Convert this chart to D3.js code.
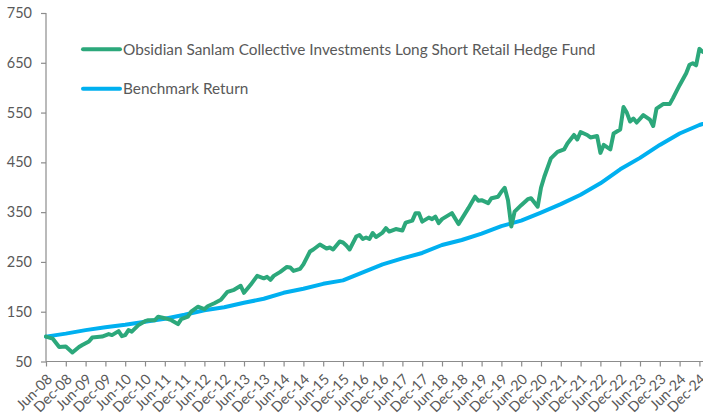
<!DOCTYPE html>
<html>
<head>
<meta charset="utf-8">
<title>Fund vs Benchmark</title>
<script src="https://d3js.org/d3.v7.min.js"></script>
<style>
  body { margin: 0; background: white; }
  #plot { width: 703px; height: 417px; }
  text { font-family: Lato, "Open Sans", sans-serif; fill: #595959; }
</style>
</head>
<body>
<div id="plot"></div>
<script>
// DATA
var seriesNames = ['Obsidian Sanlam Collective Investments Long Short Retail Hedge Fund', 'Benchmark Return']

var fundDates = ['2008-06','2008-08','2008-10','2008-12','2009-02','2009-04','2009-05','2009-07','2009-08','2009-11',
  '2010-01','2010-02','2010-03','2010-04','2010-05','2010-06','2010-07','2010-08','2010-10','2010-12',
  '2011-01','2011-03','2011-04','2011-06','2011-08','2011-10','2011-11','2012-01','2012-02','2012-04',
  '2012-06','2012-07','2012-09','2012-11','2013-01','2013-02','2013-03','2013-05','2013-06','2013-08',
  '2013-10','2013-12','2014-01','2014-02','2014-03','2014-05','2014-07','2014-08','2014-09','2014-11',
  '2014-12','2015-02','2015-03','2015-05','2015-07','2015-08','2015-09','2015-11','2015-12','2016-01',
  '2016-02','2016-04','2016-05','2016-06','2016-07','2016-08','2016-09','2016-10','2016-12','2017-01',
  '2017-02','2017-04','2017-06','2017-07','2017-09','2017-10','2017-11','2017-12','2018-02','2018-03',
  '2018-04','2018-05','2018-06','2018-09','2018-11','2019-02','2019-04','2019-05','2019-06','2019-08',
  '2019-09','2019-11','2019-12','2020-01','2020-02','2020-03','2020-04','2020-06','2020-08','2020-09',
  '2020-11','2020-12','2021-01','2021-03','2021-05','2021-07','2021-08','2021-10','2021-11','2021-12',
  '2022-02','2022-03','2022-05','2022-06','2022-07','2022-09','2022-10','2022-12','2023-01','2023-02',
  '2023-03','2023-04','2023-05','2023-07','2023-09','2023-10','2023-11','2024-01','2024-03','2024-04',
  '2024-05','2024-06','2024-08','2024-09','2024-10','2024-11','2024-12','2025-01']
var fundValues = [100,96,79,80,68,79,83,90,98,100,
  105,103,107,111,101,103,113,110,123,131,
  133,133,140,137,133,125,135,140,150,160,
  155,161,167,174,190,192,194,202,188,204,
  222,217,220,214,222,230,240,239,232,236,
  245,271,275,285,277,279,275,291,289,283,
  275,301,304,296,299,296,308,300,309,318,
  311,316,313,329,333,348,348,331,339,336,
  341,328,336,348,326,358,381,373,374,368,
  378,381,391,399,374,321,351,364,376,378,
  361,399,421,458,471,476,488,505,496,511,
  505,500,503,469,485,476,508,516,561,550,
  532,538,530,545,536,523,558,567,567,579,
  592,605,629,646,649,645,678,672]

var benchDates = ['2008-06','2008-12','2009-06','2009-12','2010-06','2010-12','2011-06','2011-12','2012-06','2012-12',
  '2013-06','2013-12','2014-06','2014-12','2015-06','2015-12','2016-06','2016-12','2017-06','2017-12',
  '2018-06','2018-12','2019-06','2019-12','2020-06','2020-12','2021-06','2021-12','2022-06','2022-12',
  '2023-06','2023-12','2024-06','2024-12','2025-01']
var benchValues = [100,106,113,119,124,130,136,144,153,159,
  168,176,188,196,206,213,229,245,257,268,
  284,294,307,322,333,349,366,385,408,436,
  459,485,508,525,527]

var yTicks = [50,150,250,350,450,550,650,750]
var xTickLabels = ['Jun-08','Dec-08','Jun-09','Dec-09','Jun-10','Dec-10','Jun-11','Dec-11','Jun-12','Dec-12',
  'Jun-13','Dec-13','Jun-14','Dec-14','Jun-15','Dec-15','Jun-16','Dec-16','Jun-17','Dec-17',
  'Jun-18','Dec-18','Jun-19','Dec-19','Jun-20','Dec-20','Jun-21','Dec-21','Jun-22','Dec-22',
  'Jun-23','Dec-23','Jun-24','Dec-24']

var colors = ['#2ca87b', '#00b0f0']

// HELPERS
var monNames = ['Jan','Feb','Mar','Apr','May','Jun','Jul','Aug','Sep','Oct','Nov','Dec']
function monthIndex(s) {            // 'YYYY-MM' -> months since Jun-08
  var p = s.split('-')
  return (+p[0] - 2008) * 12 + (+p[1] - 6)
}
function labelIndex(s) {            // 'Mmm-YY' -> months since Jun-08
  var p = s.split('-')
  return (2000 + +p[1] - 2008) * 12 + (monNames.indexOf(p[0]) + 1 - 6)
}

var W = 703, H = 417
var margin = {top: 13, right: 0, bottom: 55.5, left: 46}
var width = W - margin.left - margin.right
var height = H - margin.top - margin.bottom

var svg = d3.select('#plot').append('svg')
    .attr('width', W)
    .attr('height', H)
  .append('g')
    .attr('transform', 'translate(' + margin.left + ',' + margin.top + ')')

var x = d3.scaleLinear().domain([0, monthIndex('2025-01')]).range([0, width - 0.3])
var y = d3.scaleLinear().domain([50, 750]).range([height, 0])

// AXES
var yAxis = svg.append('g')
    .call(d3.axisLeft(y).tickValues(yTicks).tickSize(5).tickPadding(9))
yAxis.selectAll('text').style('font-size', '14.5px')

var xAxis = svg.append('g')
    .attr('transform', 'translate(0,' + height + ')')
    .call(d3.axisBottom(x).tickValues(xTickLabels.map(labelIndex))
      .tickSize(5).tickFormat(function(d, i) { return xTickLabels[i] }))
xAxis.selectAll('text')
    .style('font-size', '14.3px')
    .attr('text-anchor', 'end')
    .attr('transform', 'translate(3,15) rotate(-45)')
    .attr('dy', '0.35em')
    .attr('y', 0)
    .attr('x', 0)

svg.selectAll('.domain, .tick line').attr('stroke', '#8c8c8c').attr('stroke-width', 1.2)
yAxis.select('.domain').attr('d', 'M0,0V' + height)
xAxis.select('.domain').attr('d', 'M0,0H' + width)

// LINES
var line = d3.line()
    .x(function(d) { return x(d[0]) })
    .y(function(d) { return y(d[1]) })

var fund = fundDates.map(function(d, i) { return [monthIndex(d), fundValues[i]] })
var bench = benchDates.map(function(d, i) { return [monthIndex(d), benchValues[i]] })

svg.append('path').datum(bench)
    .attr('fill', 'none').attr('stroke', colors[1]).attr('stroke-width', 4)
    .attr('stroke-linejoin', 'round').attr('stroke-linecap', 'round')
    .attr('d', line)
svg.append('path').datum(fund)
    .attr('fill', 'none').attr('stroke', colors[0]).attr('stroke-width', 4)
    .attr('stroke-linejoin', 'round').attr('stroke-linecap', 'round')
    .attr('d', line)

// LEGEND
var legend = d3.select('#plot svg').selectAll('.legend')
    .data(seriesNames)
    .enter().append('g')
      .attr('class', 'legend')
      .attr('transform', function(d, i) { return 'translate(82,' + (49.3 + i * 39.4) + ')' })
legend.append('line')
    .attr('x1', 1).attr('x2', 38)
    .attr('stroke', function(d, i) { return colors[i] })
    .attr('stroke-width', 4).attr('stroke-linecap', 'round')
legend.append('text')
    .attr('x', 41).attr('dy', '0.36em')
    .style('font-size', '15.35px')
    .text(function(d) { return d })
</script>
</body>
</html>
